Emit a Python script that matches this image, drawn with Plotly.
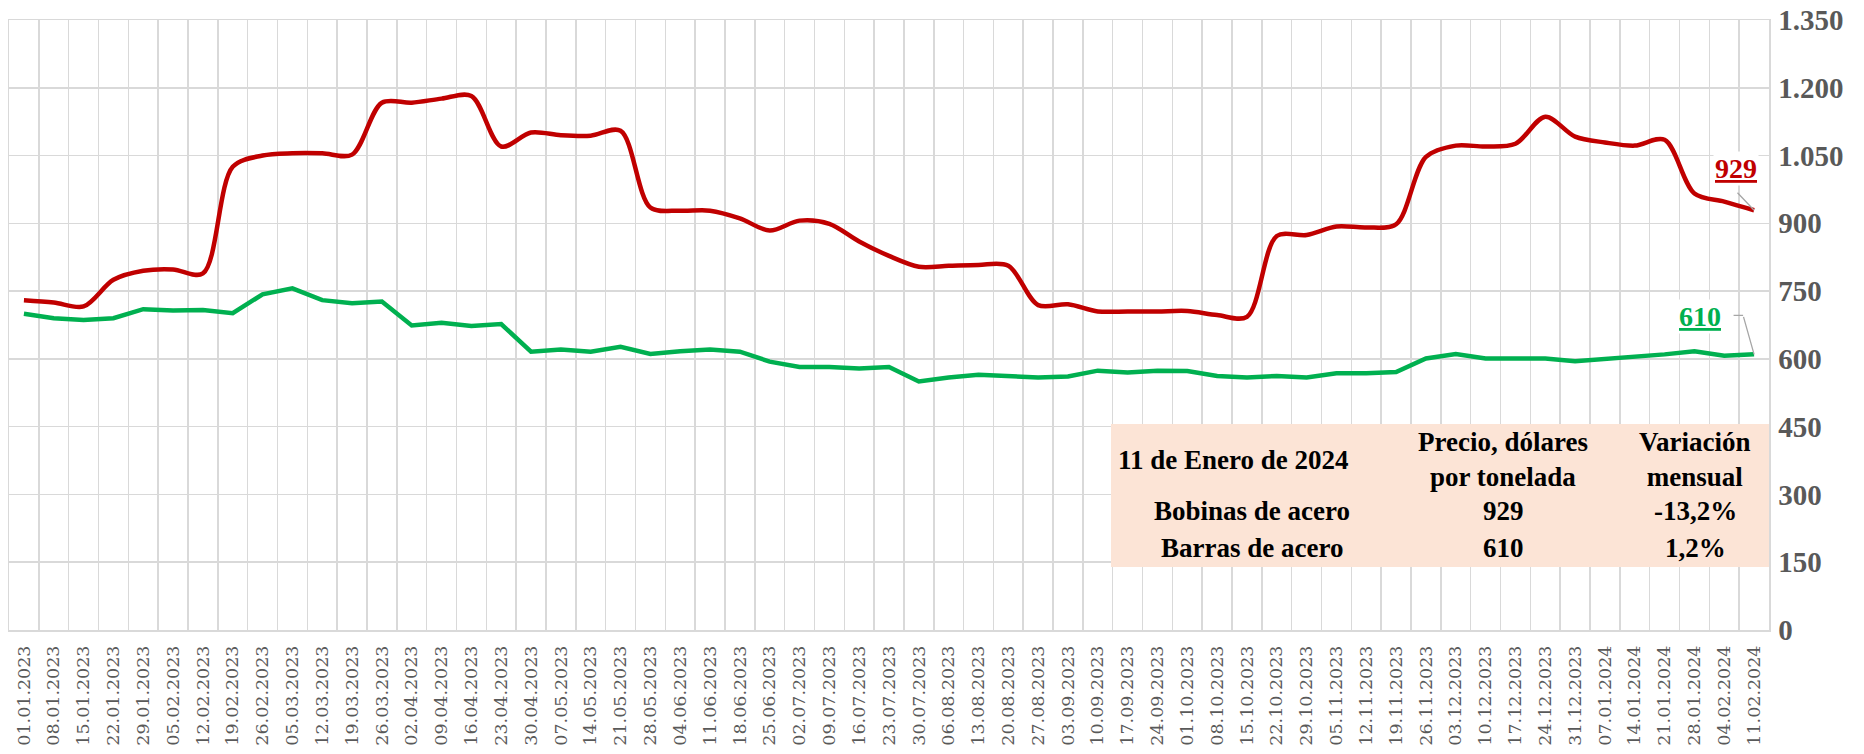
import plotly.graph_objects as go

dates = [
    "01.01.2023", "08.01.2023", "15.01.2023", "22.01.2023", "29.01.2023", "05.02.2023",
    "12.02.2023", "19.02.2023", "26.02.2023", "05.03.2023", "12.03.2023", "19.03.2023",
    "26.03.2023", "02.04.2023", "09.04.2023", "16.04.2023", "23.04.2023", "30.04.2023",
    "07.05.2023", "14.05.2023", "21.05.2023", "28.05.2023", "04.06.2023", "11.06.2023",
    "18.06.2023", "25.06.2023", "02.07.2023", "09.07.2023", "16.07.2023", "23.07.2023",
    "30.07.2023", "06.08.2023", "13.08.2023", "20.08.2023", "27.08.2023", "03.09.2023",
    "10.09.2023", "17.09.2023", "24.09.2023", "01.10.2023", "08.10.2023", "15.10.2023",
    "22.10.2023", "29.10.2023", "05.11.2023", "12.11.2023", "19.11.2023", "26.11.2023",
    "03.12.2023", "10.12.2023", "17.12.2023", "24.12.2023", "31.12.2023", "07.01.2024",
    "14.01.2024", "21.01.2024", "28.01.2024", "04.02.2024", "11.02.2024",
]

bobinas = [
    730, 725, 716, 775, 795, 798, 789, 1025, 1050, 1055, 1055, 1052, 1167, 1167, 1176,
    1182, 1070, 1101, 1095, 1094, 1105, 935, 928, 928, 911, 884, 906, 899, 860, 828,
    804, 806, 808, 806, 719, 721, 705, 705, 705, 706, 697, 693, 872, 874, 893, 891,
    898, 1047, 1072, 1070, 1076, 1136, 1092, 1079, 1072, 1085, 966, 948, 929,
]

barras = [
    700, 690, 686, 690, 710, 707, 708, 701, 743, 756, 730, 723, 727, 674, 680, 673,
    677, 616, 621, 616, 627, 611, 617, 621, 616, 594, 582, 582, 579, 582, 550, 559,
    565, 562, 559, 561, 574, 570, 574, 573, 562, 559, 562, 559, 568, 568, 571, 601,
    611, 601, 600, 601, 595, 600, 603, 610, 617, 607, 610,
]

table_header = ["11 de Enero de 2024", "Precio, dólares<br>por tonelada", "Variación<br>mensual"]
table_rows = [
    ["Bobinas de acero", "929", "-13,2%"],
    ["Barras de acero", "610", "1,2%"],
]

RED = "#C00000"
GREEN = "#00B050"
GRID = "#D9D9D9"
TICK = "#595959"
LEADER = "#A6A6A6"

W, H = 1864, 754
ML, MT = 9, 20
PW, PH = 1760, 610
MR = W - ML - PW
MB = H - MT - PH


def px(x):
    return (x - ML) / PW


def py(y):
    return 1 - (y - MT) / PH


fig = go.Figure()
fig.add_trace(go.Scatter(x=dates, y=bobinas, mode="lines",
                         line=dict(color=RED, width=4.5, shape="spline", smoothing=0.9),
                         hoverinfo="skip", name="Bobinas de acero"))
fig.add_trace(go.Scatter(x=dates, y=barras, mode="lines",
                         line=dict(color=GREEN, width=4.5),
                         hoverinfo="skip", name="Barras de acero"))

# table background
fig.add_shape(type="rect", xref="paper", yref="paper",
              x0=px(1111), x1=px(1769), y0=py(567), y1=py(424),
              fillcolor="#FCE4D6", line=dict(width=0), layer="above")

tfont = dict(family="Liberation Serif", size=27, color="#000000", weight="bold")
head_x = [1233, 1503, 1695]
col_x = [1252, 1503, 1695]
fig.add_annotation(text=table_header[0], x=px(head_x[0]), y=py(460), xref="paper", yref="paper",
                   showarrow=False, font=tfont, xanchor="center", yanchor="middle")
for j in (1, 2):
    fig.add_annotation(text=table_header[j], x=px(head_x[j]), y=py(459), xref="paper", yref="paper",
                       showarrow=False, font=tfont, xanchor="center", yanchor="middle")
for r, yy in zip(table_rows, (511, 548)):
    for j, t in enumerate(r):
        fig.add_annotation(text=t, x=px(col_x[j]), y=py(yy), xref="paper", yref="paper",
                           showarrow=False, font=tfont, xanchor="center", yanchor="middle")

# end-value labels
lab_font = dict(family="Liberation Serif", size=28, weight="bold")
fig.add_annotation(x=dates[-1], y=bobinas[-1], text=f"<u>{bobinas[-1]}</u>",
                   showarrow=False, xshift=-18, yshift=42, bgcolor="white",
                   xanchor="center", yanchor="middle", font=dict(lab_font, color=RED))
fig.add_annotation(x=dates[-1], y=bobinas[-1], text="", showarrow=True, arrowhead=0,
                   arrowwidth=1.3, arrowcolor=LEADER, ax=-18, ay=-19, standoff=0)

fig.add_annotation(x=dates[-1], y=barras[-1], text=f"<u>{barras[-1]}</u>",
                   showarrow=False, xshift=-54, yshift=38, bgcolor="white",
                   xanchor="center", yanchor="middle", font=dict(lab_font, color=GREEN))
fig.add_annotation(x=dates[-1], y=barras[-1], text="", showarrow=True, arrowhead=0,
                   arrowwidth=1.3, arrowcolor=LEADER, ax=-11, ay=-39, standoff=0)
fig.add_annotation(x=dates[-1], y=barras[-1], text="", showarrow=True, arrowhead=0,
                   arrowwidth=1.3, arrowcolor=LEADER, ax=-11, ay=0, standoff=0,
                   xshift=-11, yshift=39)

fig.update_layout(
    width=W, height=H,
    margin=dict(l=ML, r=MR, t=MT, b=MB, pad=0, autoexpand=False),
    paper_bgcolor="white", plot_bgcolor="white",
    showlegend=False,
    separators=",.",
    xaxis=dict(type="category", range=[-0.5, len(dates) - 0.5], tickson="boundaries",
               showgrid=True, gridcolor=GRID, gridwidth=1.5,
               showline=True, linecolor=GRID, linewidth=1.5, mirror=True,
               tickangle=-90, ticks="", ticklabelstandoff=7, automargin=False,
               tickfont=dict(family="DejaVu Serif", size=17.5, color=TICK)),
    yaxis=dict(side="right", range=[0, 1350], dtick=150, tick0=0,
               showgrid=True, gridcolor=GRID, gridwidth=1.5, zeroline=False,
               showline=True, linecolor=GRID, linewidth=1.5, mirror=True,
               separatethousands=True, ticks="", ticklabelstandoff=2, automargin=False,
               tickfont=dict(family="Liberation Serif", size=29, color=TICK, weight="bold")),
)

fig.write_html("out.html", config={"displayModeBar": False, "staticPlot": True},
               post_script="document.body.style.margin='0';document.body.style.overflow='hidden';")
